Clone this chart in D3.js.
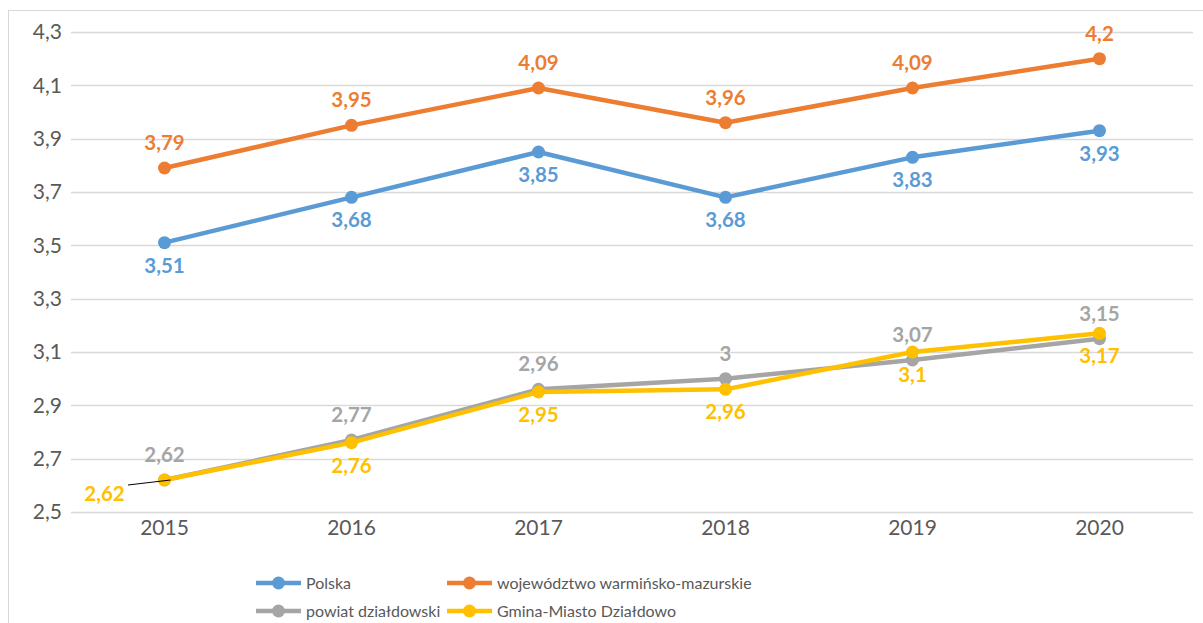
<!DOCTYPE html>
<html>
<head>
  <meta charset="utf-8">
  <script src="https://d3js.org/d3.v7.min.js"></script>
  <style>
    body { margin: 0; background: #fff; font-family: Lato, 'Open Sans', sans-serif; }
    svg { display: block; }
  </style>
</head>
<body>
<svg width="1203" height="623"></svg>
<script>
// data
var years = ["2015", "2016", "2017", "2018", "2019", "2020"];
var polska = [3.51, 3.68, 3.85, 3.68, 3.83, 3.93];
var wojewodztwo = [3.79, 3.95, 4.09, 3.96, 4.09, 4.2];
var powiat = [2.62, 2.77, 2.96, 3, 3.07, 3.15];
var gmina = [2.62, 2.76, 2.95, 2.96, 3.1, 3.17];
var yTicks = [2.5, 2.7, 2.9, 3.1, 3.3, 3.5, 3.7, 3.9, 4.1, 4.3];
var seriesNames = ["Polska", "województwo warmińsko-mazurskie", "powiat działdowski", "Gmina-Miasto Działdowo"];

var series = [
  { name: seriesNames[0], values: polska, color: "#5b9bd5", pos: "below" },
  { name: seriesNames[1], values: wojewodztwo, color: "#ed7d31", pos: "above" },
  { name: seriesNames[2], values: powiat, color: "#a5a5a5", pos: "above" },
  { name: seriesNames[3], values: gmina, color: "#ffc000", pos: "below" }
];

var svg = d3.select("svg");
var fmt = function (v) { return String(v).replace(".", ","); };

// chart box (runs off the right and bottom edge like the source)
svg.append("rect")
  .attr("x", 8.5).attr("y", 10.5)
  .attr("width", 1300).attr("height", 700)
  .attr("fill", "#fff")
  .attr("stroke", "#d9d9d9");

var x = d3.scaleBand().domain(years).range([71, 1193]).padding(0);
var y = d3.scaleLinear().domain([2.5, 4.3]).range([512, 32]);
var cx = function (i) { return x(years[i]) + x.bandwidth() / 2; };

// gridlines
svg.append("g").selectAll("line")
  .data(yTicks)
  .join("line")
  .attr("x1", 71).attr("x2", 1193)
  .attr("y1", function (d) { return Math.round(y(d)) + 0.5; })
  .attr("y2", function (d) { return Math.round(y(d)) + 0.5; })
  .attr("stroke", "#d9d9d9")
  .attr("stroke-width", 1.5);

// y axis labels
var yAxis = d3.axisLeft(y).tickValues(yTicks).tickSize(0).tickPadding(9)
  .tickFormat(function (d) { return d3.format(".1f")(d).replace(".", ","); });
var gy = svg.append("g").attr("transform", "translate(71,0)").call(yAxis);
gy.select(".domain").remove();
gy.selectAll("text").attr("font-size", "21px").attr("fill", "#595959")
  .attr("font-family", "Lato, sans-serif");

// x axis labels
var xAxis = d3.axisBottom(x).tickSize(0).tickPadding(8);
var gx = svg.append("g").attr("transform", "translate(0,512)").call(xAxis);
gx.select(".domain").remove();
gx.selectAll("text").attr("font-size", "21px").attr("fill", "#595959")
  .attr("font-family", "Lato, sans-serif");

var line = d3.line()
  .x(function (d, i) { return cx(i); })
  .y(function (d) { return y(d); });

series.forEach(function (s) {
  svg.append("path")
    .datum(s.values)
    .attr("d", line)
    .attr("fill", "none")
    .attr("stroke", s.color)
    .attr("stroke-width", 4.5)
    .attr("stroke-linejoin", "round");
  svg.append("g").selectAll("circle")
    .data(s.values)
    .join("circle")
    .attr("cx", function (d, i) { return cx(i); })
    .attr("cy", function (d) { return y(d); })
    .attr("r", 6.5)
    .attr("fill", s.color);
});

// leader line for the shifted 2015 gmina label
svg.append("line")
  .attr("x1", 128).attr("y1", 485)
  .attr("x2", cx(0) + 6).attr("y2", y(gmina[0]))
  .attr("stroke", "#000").attr("stroke-width", 1);

// data labels
series.forEach(function (s, si) {
  svg.append("g").selectAll("text")
    .data(s.values)
    .join("text")
    .attr("x", function (d, i) {
      if (si === 3 && i === 0) return cx(i) - 60;
      return cx(i);
    })
    .attr("y", function (d, i) {
      if (si === 3 && i === 0) return y(d) + 21;
      return s.pos === "above" ? y(d) - 18 : y(d) + 30;
    })
    .attr("text-anchor", "middle")
    .attr("font-size", "20.5px")
    .attr("font-weight", "bold")
    .attr("fill", s.color)
    .text(function (d) { return fmt(d); });
});

// legend
var legendPos = [[256, 583], [447, 583], [256, 611], [447, 611]];
series.forEach(function (s, i) {
  var lg = svg.append("g").attr("transform", "translate(" + legendPos[i][0] + "," + legendPos[i][1] + ")");
  lg.append("line").attr("x1", 0).attr("x2", 45).attr("y1", 0).attr("y2", 0)
    .attr("stroke", s.color).attr("stroke-width", 4.5);
  lg.append("circle").attr("cx", 22.5).attr("cy", 0).attr("r", 6.5).attr("fill", s.color);
  lg.append("text").attr("x", 50).attr("y", 6)
    .attr("font-size", "16px").attr("fill", "#595959")
    .text(s.name);
});
</script>
</body>
</html>
